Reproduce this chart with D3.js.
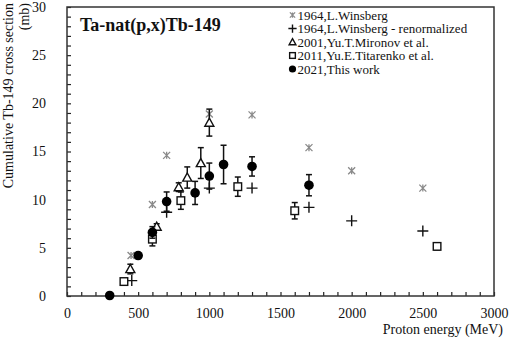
<!DOCTYPE html>
<html>
<head>
<meta charset="utf-8">
<script src="https://cdn.jsdelivr.net/npm/d3@7"></script>
<style>
  body { margin: 0; background: #fff; }
  svg text { font-family: "Liberation Serif", "Times New Roman", serif !important; }
</style>
</head>
<body>
<svg id="chart" width="510" height="339"></svg>
<script>
// datos (energía en MeV, sección en mb)
const winsbergE = [450, 600, 700, 1000, 1300, 1700, 2000, 2500];
const winsbergXS = [4.2, 9.5, 14.6, 18.9, 18.8, 15.4, 13.0, 11.2];

const renormE = [455, 700, 1000, 1300, 1700, 2000, 2500];
const renormXS = [1.6, 8.7, 11.2, 11.2, 9.2, 7.8, 6.75];

const mironovE = [445, 630, 785, 845, 940, 1000];
const mironovXS = [2.8, 7.2, 11.3, 12.3, 13.8, 18.0];
const mironovErr = [0.5, 0.3, 0.45, 1.1, 1.6, 1.4];

const titarenkoE = [400, 600, 800, 1200, 1600, 2600];
const titarenkoXS = [1.5, 5.9, 9.9, 11.35, 8.85, 5.15];
const titarenkoErr = [0.1, 0.7, 0.9, 1.0, 0.85, 0.35];

const thisE = [300, 500, 600, 700, 900, 1000, 1100, 1300, 1700];
const thisXS = [0.05, 4.2, 6.6, 9.8, 10.7, 12.45, 13.65, 13.45, 11.5];
const thisErr = [0, 0.3, 0.6, 1.0, 1.2, 1.35, 2.0, 1.0, 1.1];

const legendLabels = [
  "1964,L.Winsberg",
  "1964,L.Winsberg - renormalized",
  "2001,Yu.T.Mironov et al.",
  "2011,Yu.E.Titarenko et al.",
  "2021,This work"
];
const xTicks = d3.range(0, 3001, 100);
const yTicks = d3.range(0, 31, 1);

const svg = d3.select("#chart");
const x = d3.scaleLinear().domain([0, 3000]).range([67, 494]);
const y = d3.scaleLinear().domain([0, 30]).range([296, 7]);

// ejes con marcas hacia dentro
const xAxis = svg.append("g")
  .attr("transform", "translate(0,296)")
  .call(d3.axisBottom(x).tickValues(xTicks).tickSize(-4).tickSizeOuter(0).tickPadding(12)
    .tickFormat(d => d % 500 === 0 ? d : ""));
const yAxis = svg.append("g")
  .attr("transform", "translate(67,0)")
  .call(d3.axisLeft(y).tickValues(yTicks).tickSize(-4).tickSizeOuter(0).tickPadding(21)
    .tickFormat(d => d % 5 === 0 ? d : ""));
[xAxis, yAxis].forEach(g => {
  g.attr("font-family", null).attr("font-size", null);
  g.select(".domain").remove();
  g.selectAll("line").attr("stroke", "#222").attr("stroke-width", 1.2);
  g.selectAll("text").style("font-size", "14px").attr("fill", "#111");
});

// marco del área de trazado
svg.append("rect")
  .attr("x", 67).attr("y", 7).attr("width", 494 - 67).attr("height", 296 - 7)
  .attr("fill", "none").attr("stroke", "#333").attr("stroke-width", 1.5);

// títulos de ejes
svg.append("text").attr("x", 503).attr("y", 334).attr("text-anchor", "end")
  .style("font-size", "14px").attr("fill", "#111").text("Proton energy (MeV)");
svg.append("text").attr("transform", "translate(13,3) rotate(-90)").attr("text-anchor", "end")
  .style("font-size", "14px").attr("fill", "#111").text("Cumulative Tb-149 cross section");
svg.append("text").attr("transform", "translate(29,3) rotate(-90)").attr("text-anchor", "end")
  .style("font-size", "14px").attr("fill", "#111").text("(mb)");

svg.append("text").attr("x", 80).attr("y", 31)
  .style("font-size", "18px").attr("font-weight", "bold").attr("fill", "#111")
  .text("Ta-nat(p,x)Tb-149");

// dibuja barras de error
function errorBars(E, XS, ERR) {
  const g = svg.append("g").attr("stroke", "#111").attr("stroke-width", 1.5);
  E.forEach((e, i) => {
    if (!ERR[i]) return;
    const cx = x(e), y1 = y(XS[i] + ERR[i]), y2 = y(XS[i] - ERR[i]);
    g.append("line").attr("x1", cx).attr("x2", cx).attr("y1", y1).attr("y2", y2);
    g.append("line").attr("x1", cx - 3).attr("x2", cx + 3).attr("y1", y1).attr("y2", y1);
    g.append("line").attr("x1", cx - 3).attr("x2", cx + 3).attr("y1", y2).attr("y2", y2);
  });
}

// formas de los marcadores
function drawMarker(g, kind, cx, cy, s) {
  if (kind === "star") {
    const r = 3.5 * s;
    g.append("path")
      .attr("d", `M${cx - r},${cy - r}L${cx + r},${cy + r}M${cx - r},${cy + r}L${cx + r},${cy - r}M${cx},${cy - r}L${cx},${cy + r}`)
      .attr("stroke", "#8a8a8a").attr("stroke-width", 1.3).attr("fill", "none");
  } else if (kind === "plus") {
    const r = 5.5 * s;
    g.append("path")
      .attr("d", `M${cx - r},${cy}L${cx + r},${cy}M${cx},${cy - r}L${cx},${cy + r}`)
      .attr("stroke", "#111").attr("stroke-width", 1.4).attr("fill", "none");
  } else if (kind === "tri") {
    const r = 4.5 * s;
    g.append("path")
      .attr("d", `M${cx},${cy - r}L${cx + r},${cy + r * 0.8}L${cx - r},${cy + r * 0.8}Z`)
      .attr("stroke", "#111").attr("stroke-width", 1.4).attr("fill", "#fff");
  } else if (kind === "square") {
    const r = 3.8 * s;
    g.append("rect").attr("x", cx - r).attr("y", cy - r).attr("width", 2 * r).attr("height", 2 * r)
      .attr("stroke", "#111").attr("stroke-width", 1.4).attr("fill", "#fff");
  } else {
    g.append("circle").attr("cx", cx).attr("cy", cy).attr("r", 4.8 * s).attr("fill", "#000");
  }
}

function series(E, XS, kind) {
  const g = svg.append("g");
  E.forEach((e, i) => drawMarker(g, kind, x(e), y(XS[i]), 1));
}

series(winsbergE, winsbergXS, "star");
series(renormE, renormXS, "plus");
errorBars(mironovE, mironovXS, mironovErr);
series(mironovE, mironovXS, "tri");
errorBars(titarenkoE, titarenkoXS, titarenkoErr);
series(titarenkoE, titarenkoXS, "square");
errorBars(thisE, thisXS, thisErr);
series(thisE, thisXS, "circle");

// leyenda
const kinds = ["star", "plus", "tri", "square", "circle"];
const leg = svg.append("g");
legendLabels.forEach((lab, i) => {
  const cy = 15 + i * 13.5;
  drawMarker(leg, kinds[i], 292.5, cy, 0.75);
  leg.append("text").attr("x", 297.5).attr("y", cy + 4.5)
    .style("font-size", "13px").attr("fill", "#111").text(lab);
});
</script>
</body>
</html>
